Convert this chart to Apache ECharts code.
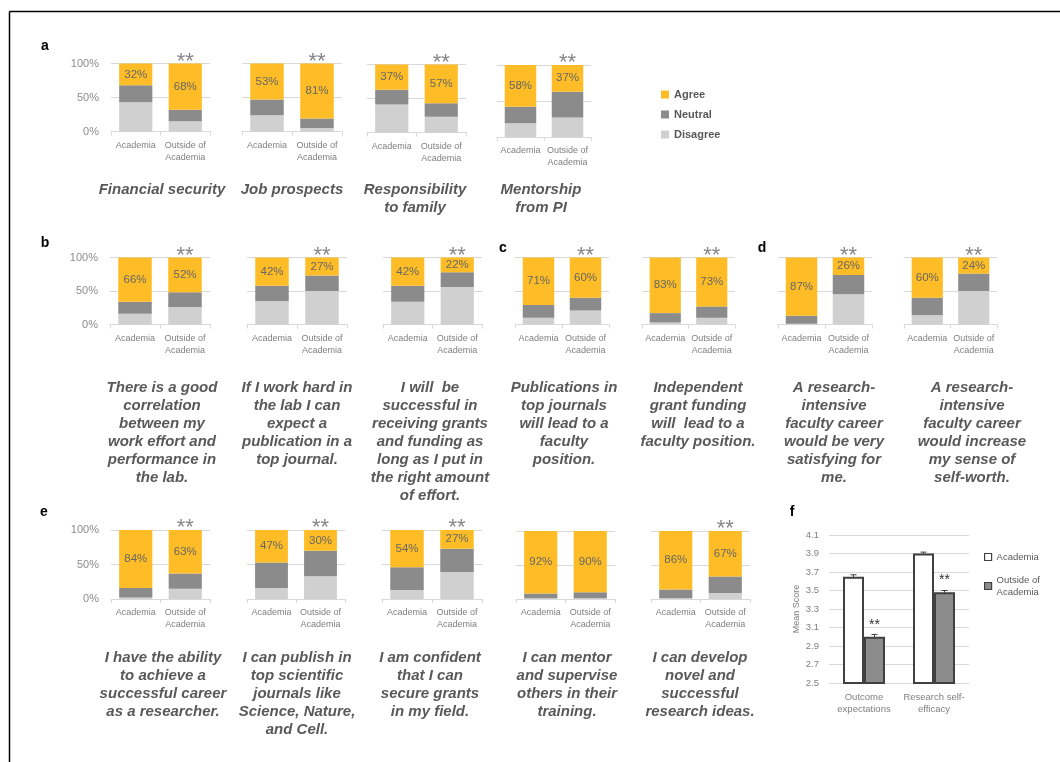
<!DOCTYPE html>
<html><head><meta charset="utf-8">
<script src="https://cdn.jsdelivr.net/npm/echarts@6/dist/echarts.min.js"></script>
<style>html,body{margin:0;padding:0;background:#fff}#c{width:1060px;height:762px}</style>
</head><body><div id="c"></div>
<script>
// ---------- DATA ----------
const groups = ['Academia', 'Outside of\nAcademia'];
const seriesNames = ['Agree', 'Neutral', 'Disagree'];
// one entry per small chart: [Academia, Outside of Academia]
const agreeValues = [[32,68],[53,81],[37,57],[58,37],[66,52],[42,27],[42,22],[71,60],[83,73],[87,26],[60,24],[84,63],[47,30],[54,27],[92,90],[86,67]];
const neutralValues = [[25,17],[23,14],[22,20],[23,36],[18,22],[23,23],[24,22],[19,19],[14,17],[12,29],[26,26],[14,22],[37,37],[33,34],[7,9],[13,24]];
const disagreeValues = [[43,15],[24,5],[41,23],[19,27],[16,26],[35,50],[34,56],[10,21],[3,10],[1,45],[14,50],[2,15],[16,33],[13,39],[1,1],[1,9]];
const significant = [1,1,1,1,1,1,1,1,1,1,1,1,1,1,0,1];
const percentTickLabels = ['0%','50%','100%'];
const panelATitles = ['Financial security','Job prospects','Responsibility\nto family','Mentorship\nfrom PI'];
const statementsBD = [
 'There is a good\ncorrelation\nbetween my\nwork effort and\nperformance in\nthe lab.',
 'If I work hard in\nthe lab I can\nexpect a\npublication in a\ntop journal.',
 'I will  be\nsuccessful in\nreceiving grants\nand funding as\nlong as I put in\nthe right amount\nof effort.',
 'Publications in\ntop journals\nwill lead to a\nfaculty\nposition.',
 'Independent\ngrant funding\nwill  lead to a\nfaculty position.',
 'A research-\nintensive\nfaculty career\nwould be very\nsatisfying for\nme.',
 'A research-\nintensive\nfaculty career\nwould increase\nmy sense of\nself-worth.'
];
const statementsE = [
 'I have the ability\nto achieve a\nsuccessful career\nas a researcher.',
 'I can publish in\ntop scientific\njournals like\nScience, Nature,\nand Cell.',
 'I am confident\nthat I can\nsecure grants\nin my field.',
 'I can mentor\nand supervise\nothers in their\ntraining.',
 'I can develop\nnovel and\nsuccessful\nresearch ideas.'
];
const panelLetters = ['a','b','c','d','e','f'];
const scoreCategories = ['Outcome\nexpectations', 'Research self-\nefficacy'];
const scoreGroups = ['Academia', 'Outside of Academia'];
const academiaScores = [3.65, 3.90];
const outsideScores = [3.00, 3.48];
const academiaErrors = [0.02, 0.015];
const outsideErrors = [0.025, 0.02];
const scoreSignificant = [1, 1];
const scoreTicks = {min: 2.5, max: 4.1, step: 0.2};

// ---------- LAYOUT / STYLE ----------
const COL = {agree:'#FEBD26', neutral:'#8B8B8B', disagree:'#D0D0D0', grid:'#D9D9D9', axisText:'#7F7F7F', text:'#595959'};
const FONT = '"Liberation Sans", Arial, sans-serif';
// left, right, top, bottom, show y labels
const layout = [
 [111,210,63.5,131.5,true],[242,342,63.5,131.5,false],[367,466,64.5,132.5,false],[497,591,65,137,false],
 [110,210,257.5,324.5,true],[247,347,257.5,324.5,false],[383,482,257.5,324.5,false],
 [515,609,257.5,324.5,false],[642,735,257.5,324.5,false],
 [778,872,257.5,324.5,false],[904,997,257.5,324.5,false],
 [111,210,530,599,true],[247,345,530,599,false],[382,482,530,599,false],[516,615,531,599,false],[651,750,531,599,false]
];
const titleAPos = [[162,181],[292,181],[415,181],[541,181]];
const captionBDPos = [162,297,430,564,698,834,972];
const captionEPos = [163,297,430,567,700];
const letterPos = [[45,46],[45,243],[503,248],[762,248],[44,512],[792,512]];

const grids = [], xAxes = [], yAxes = [], series = [];
layout.forEach((g, i) => {
  const [l, r, t, b, showY] = g;
  grids.push({left:l, top:t, width:r-l, height:b-t, outerBoundsMode:'none', containLabel:false});
  xAxes.push({gridIndex:i, type:'category', data:groups,
    axisLine:{lineStyle:{color:COL.grid}}, axisTick:{show:true, length:4, lineStyle:{color:COL.grid}},
    axisLabel:{interval:0, fontSize:9, color:COL.axisText, lineHeight:12, margin:8, fontFamily:FONT}});
  yAxes.push({gridIndex:i, type:'value', min:0, max:100, interval:50,
    axisLine:{show:false}, axisTick:{show:false},
    axisLabel:{show:showY, fontSize:11, color:'#8C8C8C', margin:12, fontFamily:FONT,
      formatter: v => percentTickLabels[Math.round(v/50)]},
    splitLine:{lineStyle:{color:COL.grid, width:1}}});
  const common = {type:'bar', stack:'s'+i, xAxisIndex:i, yAxisIndex:i, barWidth:'67%', silent:true};
  series.push(Object.assign({}, common, {name:'Disagree', data:disagreeValues[i], itemStyle:{color:COL.disagree}}));
  series.push(Object.assign({}, common, {name:'Neutral', data:neutralValues[i], itemStyle:{color:COL.neutral}}));
  series.push(Object.assign({}, common, {name:'Agree', data:agreeValues[i], itemStyle:{color:COL.agree},
    label:{show:true, position:'inside', formatter:p => p.value + '%', fontSize:11.5, color:'#666', fontFamily:FONT}}));
  if (significant[i]) {
    series.push({type:'scatter', xAxisIndex:i, yAxisIndex:i, symbolSize:0, silent:true,
      data:[[groups[1], agreeValues[i][1] + neutralValues[i][1] + disagreeValues[i][1]]],
      label:{show:true, formatter:'**', position:'top', distance:0, offset:[0,9], fontSize:22, color:'#666', fontFamily:FONT}});
  }
});

// panel f
const fi = layout.length;
grids.push({left:829, top:535, width:140, height:148, outerBoundsMode:'none', containLabel:false});
xAxes.push({gridIndex:fi, type:'category', data:scoreCategories,
  axisLine:{lineStyle:{color:COL.grid}}, axisTick:{show:false},
  axisLabel:{interval:0, fontSize:9.5, color:COL.axisText, lineHeight:12, margin:8, fontFamily:FONT}});
yAxes.push({gridIndex:fi, type:'value', min:scoreTicks.min, max:scoreTicks.max, interval:scoreTicks.step,
  name:'Mean Score', nameLocation:'middle', nameGap:28, nameTextStyle:{fontSize:9, color:COL.axisText, fontFamily:FONT},
  axisLine:{show:false}, axisTick:{show:false},
  axisLabel:{fontSize:9.5, color:COL.axisText, margin:10, fontFamily:FONT, formatter:v => v.toFixed(1)},
  splitLine:{lineStyle:{color:COL.grid}}});
series.push({type:'bar', name:scoreGroups[0], xAxisIndex:fi, yAxisIndex:fi, data:academiaScores, barWidth:'30%', barGap:'0%',
  itemStyle:{color:'#FFFFFF', borderColor:'#404040', borderWidth:2}, silent:true});
series.push({type:'bar', name:scoreGroups[1], xAxisIndex:fi, yAxisIndex:fi, data:outsideScores, barWidth:'30%', barGap:'0%',
  itemStyle:{color:'#8C8C8C', borderColor:'#404040', borderWidth:2}, silent:true,
  label:{show:true, position:'top', distance:5, formatter:p => scoreSignificant[p.dataIndex] ? '**' : '', fontSize:14, color:'#333', fontFamily:FONT}});
function errorBar(side) {
  return function(params, api) {
    const k = api.value(0), v = api.value(1), e = api.value(2);
    const band = api.size([1, 0])[0];
    const top = api.coord([k, v + e]), bot = api.coord([k, v - e]);
    const x = top[0] + side * band * 0.15;
    return {type:'group', children:[
      {type:'line', shape:{x1:x, y1:top[1], x2:x, y2:bot[1]}, style:{stroke:'#404040', lineWidth:1}},
      {type:'line', shape:{x1:x-3, y1:top[1], x2:x+3, y2:top[1]}, style:{stroke:'#404040', lineWidth:1}}
    ]};
  };
}
series.push({type:'custom', xAxisIndex:fi, yAxisIndex:fi, z:5, silent:true,
  data:academiaScores.map((v,k) => [k, v, academiaErrors[k]]), renderItem:errorBar(-1)});
series.push({type:'custom', xAxisIndex:fi, yAxisIndex:fi, z:5, silent:true,
  data:outsideScores.map((v,k) => [k, v, outsideErrors[k]]), renderItem:errorBar(1)});

// ---------- GRAPHIC TEXT ----------
const graphic = [];
graphic.push({type:'line', shape:{x1:9.5, y1:11.5, x2:1060, y2:11.5}, style:{stroke:'#000', lineWidth:1.5}, silent:true});
graphic.push({type:'line', shape:{x1:9.5, y1:11.5, x2:9.5, y2:762}, style:{stroke:'#000', lineWidth:1.5}, silent:true});
panelLetters.forEach((t, k) => graphic.push({type:'text', x:letterPos[k][0], y:letterPos[k][1], silent:true,
  style:{text:t, font:'bold 14px ' + FONT, fill:'#000', textAlign:'center', textVerticalAlign:'middle'}}));
const capStyle = (text) => ({text, font:'italic bold 15px ' + FONT, fill:COL.text, textAlign:'center', textVerticalAlign:'top', lineHeight:18});
panelATitles.forEach((t, k) => graphic.push({type:'text', x:titleAPos[k][0], y:titleAPos[k][1], silent:true, style:capStyle(t)}));
statementsBD.forEach((t, k) => graphic.push({type:'text', x:captionBDPos[k], y:379, silent:true, style:capStyle(t)}));
statementsE.forEach((t, k) => graphic.push({type:'text', x:captionEPos[k], y:649, silent:true, style:capStyle(t)}));

const option = {
  animation:false,
  backgroundColor:'#fff',
  textStyle:{fontFamily:FONT},
  grid:grids, xAxis:xAxes, yAxis:yAxes, series,
  legend:[
    {data:seriesNames, orient:'vertical', left:656, top:84, icon:'rect', itemWidth:8, itemHeight:8, itemGap:9,
      selectedMode:false, textStyle:{fontSize:11, fontWeight:'bold', color:COL.text, fontFamily:FONT}},
    {data:[{name:scoreGroups[0]}, {name:scoreGroups[1], textStyle:{padding:[12,0,0,0]}}],
      orient:'vertical', left:979, top:546, icon:'rect', itemWidth:7, itemHeight:7, itemGap:5, selectedMode:false,
      itemStyle:{borderWidth:1.2},
      formatter:n => n === scoreGroups[1] ? 'Outside of\nAcademia' : n,
      textStyle:{fontSize:9.5, color:COL.text, lineHeight:12, fontFamily:FONT}}
  ],
  graphic
};
const chart = echarts.init(document.getElementById('c'), null, {width:1060, height:762});
chart.setOption(option);
</script>
</body></html>
